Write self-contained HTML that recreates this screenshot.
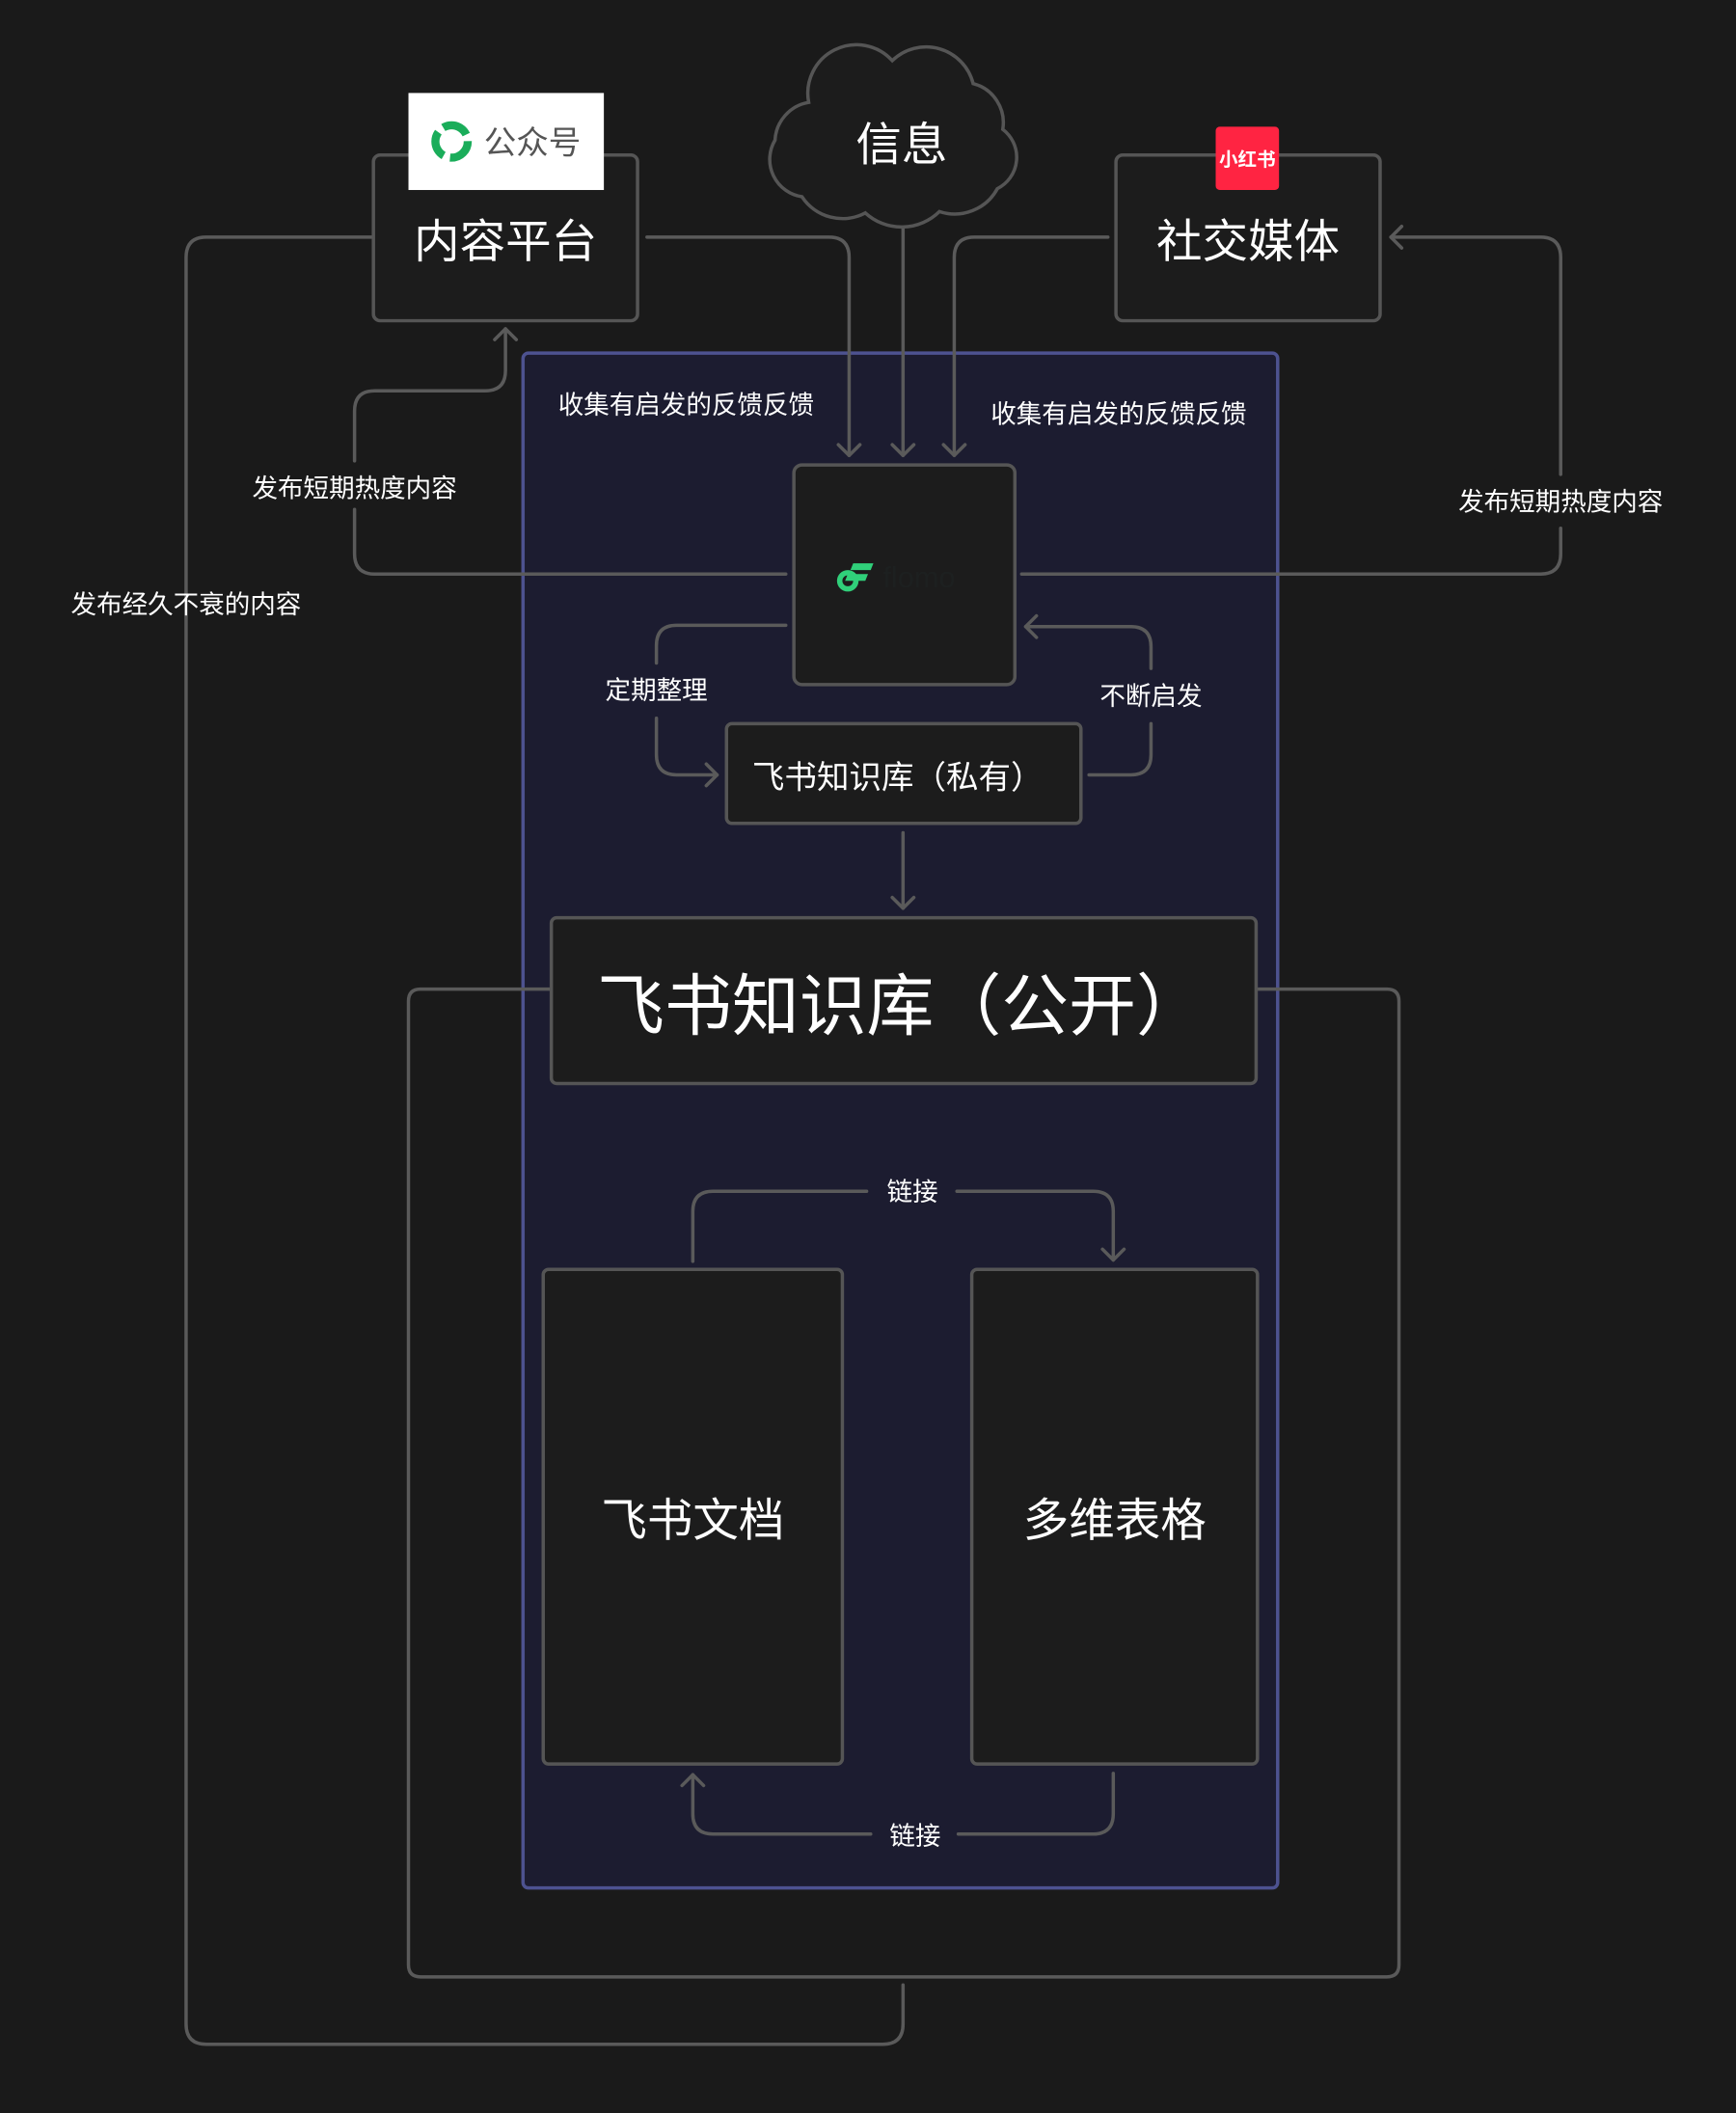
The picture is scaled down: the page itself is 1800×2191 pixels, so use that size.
<!DOCTYPE html>
<html><head><meta charset="utf-8"><style>
html,body{margin:0;padding:0;background:#1a1a1a;}
svg{display:block;}
text{font-family:"Liberation Sans","Noto Sans CJK SC",sans-serif;fill:#fff;}
</style></head><body>
<svg width="1800" height="2191" viewBox="0 0 1288 1568" xmlns="http://www.w3.org/2000/svg">
<rect width="1288" height="1568" fill="#1a1a1a"/>
<rect x="388" y="262" width="560" height="1139" rx="4" fill="#1c1c30" stroke="#4d5290" stroke-width="2.5"/>
<g fill="none" stroke="#5a5a5a" stroke-width="2.5" stroke-linecap="round" stroke-linejoin="round">
<path d="M277 176 H153 Q138 176 138 191 V1502 Q138 1517 153 1517 H655 Q670 1517 670 1502 V1473"/>
<path d="M409 734 H312 Q303 734 303 743 V1458 Q303 1467 312 1467 H1029 Q1038 1467 1038 1458 V743 Q1038 734 1029 734 H932"/>
<path d="M480 176 H615 Q630 176 630 191 V338"/><path d="M622 330 L630 338 L638 330"/>
<path d="M670 170 V338"/><path d="M662 330 L670 338 L678 330"/>
<path d="M822 176 H723 Q708 176 708 191 V338"/><path d="M700 330 L708 338 L716 330"/>
<path d="M583 426 H278 Q263 426 263 411 V378"/><path d="M263 342 V305 Q263 290 278 290 H360 Q375 290 375 275 V244"/><path d="M367 252 L375 244 L383 252"/>
<path d="M758 426 H1143 Q1158 426 1158 411 V392"/><path d="M1158 352 V191 Q1158 176 1143 176 H1032"/><path d="M1040 168 L1032 176 L1040 184"/>
<path d="M583 464 H502 Q487 464 487 479 V492"/><path d="M487 533 V560 Q487 575 502 575 H532"/><path d="M524 567 L532 575 L524 583"/>
<path d="M808 575 H839 Q854 575 854 560 V537"/><path d="M854 496 V480 Q854 465 839 465 H761"/><path d="M769 457 L761 465 L769 473"/>
<path d="M670 618 V674"/><path d="M662 666 L670 674 L678 666"/>
<path d="M514 936 V899 Q514 884 529 884 H643"/><path d="M710 884 H811 Q826 884 826 899 V935"/><path d="M818 927 L826 935 L834 927"/>
<path d="M826 1316 V1346 Q826 1361 811 1361 H711"/><path d="M646 1361 H529 Q514 1361 514 1346 V1317"/><path d="M506 1325 L514 1317 L522 1325"/>
</g>
<g fill="#1c1c1c" stroke="#555" stroke-width="2.5">
<rect x="277" y="115" width="196" height="123" rx="5"/>
<rect x="828" y="115" width="196" height="123" rx="5"/>
<rect x="589" y="345" width="164" height="163" rx="6"/>
<rect x="539" y="537" width="263" height="74" rx="4"/>
<rect x="409" y="681" width="523" height="123" rx="4"/>
<rect x="403" y="942" width="222" height="367" rx="4"/>
<rect x="721" y="942" width="212" height="367" rx="4"/>
</g>
<path d="M600 76 A36 36 0 0 1 662 45 A36 36 0 0 1 722 62 A30 30 0 0 1 744 96 A26 26 0 0 1 740 140 A36 36 0 0 1 697 157 A40 40 0 0 1 642 158 A36 36 0 0 1 595 146 A28 28 0 0 1 575 104 A30 30 0 0 1 600 76 Z" fill="#1c1c1c" stroke="#555" stroke-width="2.5"/>
<rect x="303" y="69" width="145" height="72" fill="#fff"/>
<circle cx="335" cy="105" r="12" fill="none" stroke="#1aad5a" stroke-width="6" stroke-dasharray="20 5"/>
<text x="359" y="114" font-size="24" style="fill:#555">公众号</text>
<rect x="902" y="94" width="47" height="47" rx="3" fill="#ff2442"/>
<text x="925.5" y="123" font-size="14" font-weight="bold" text-anchor="middle">小红书</text>
<circle cx="629" cy="431" r="6" fill="none" stroke="#30d07a" stroke-width="4"/>
<path d="M633 418 H648 L646 423 H631 Z M629 426 H644 L642 431 H627 Z" fill="#30d07a"/>
<text x="655" y="436" font-size="22" style="fill:#1d2020">flomo</text>
<text x="375" y="191" font-size="34" text-anchor="middle">内容平台</text>
<text x="926" y="191" font-size="34" text-anchor="middle">社交媒体</text>
<text x="669" y="119" font-size="34" text-anchor="middle">信息</text>
<text x="666" y="585" font-size="24" text-anchor="middle">飞书知识库（私有）</text>
<text x="443" y="764" font-size="50">飞书知识库（公开）</text>
<text x="514" y="1140" font-size="34" text-anchor="middle">飞书文档</text>
<text x="827" y="1140" font-size="34" text-anchor="middle">多维表格</text>
<g font-size="19" text-anchor="middle">
<text x="509" y="307">收集有启发的反馈反馈</text>
<text x="830" y="314">收集有启发的反馈反馈</text>
<text x="263" y="369">发布短期热度内容</text>
<text x="1158" y="379">发布短期热度内容</text>
<text x="138" y="455">发布经久不衰的内容</text>
<text x="487" y="519">定期整理</text>
<text x="854" y="523">不断启发</text>
<text x="677" y="891">链接</text>
<text x="679" y="1369">链接</text>
</g>
</svg>
</body></html>
